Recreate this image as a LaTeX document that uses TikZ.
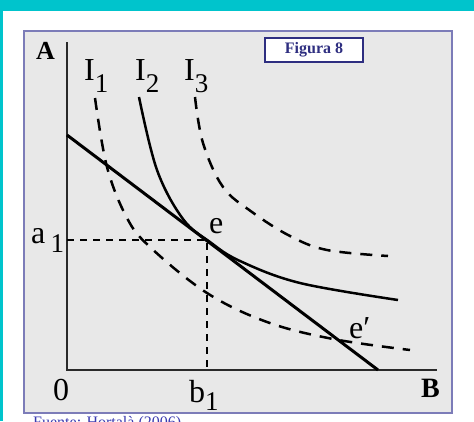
\documentclass[tikz,border=0pt]{standalone}
\usepackage{fontspec}
\setmainfont{Liberation Serif}
\definecolor{tealband}{HTML}{00C4CC}
\definecolor{panelgray}{HTML}{E8E8E8}
\definecolor{paneledge}{HTML}{7C7CB8}
\definecolor{navy}{HTML}{2E2E80}
\definecolor{srcblue}{HTML}{3A3AB0}
\definecolor{axisgray}{HTML}{2A2A2A}
\newcommand{\mysub}[2]{\raisebox{-#1}{\fontsize{27}{27}\selectfont #2}}
\tikzset{
  lbl/.style={font=\fontsize{32}{32}\selectfont, inner sep=0pt, anchor=base west},
  boldlbl/.style={font=\fontsize{28}{28}\selectfont\bfseries, inner sep=0pt, anchor=base west},
  axisline/.style={line width=2pt, draw=axisgray},
  budget/.style={line width=3pt, draw=black},
  indiff/.style={line width=2.5pt, draw=black},
  indiffdash/.style={line width=2.5pt, draw=black, dash pattern=on 12pt off 9pt},
  guide/.style={line width=1.3pt, draw=black, dash pattern=on 7pt off 6pt},
  figbox/.style={draw=navy, line width=2pt, fill=white, minimum width=98pt, minimum height=24pt, inner sep=0pt, font=\fontsize{16}{16}\selectfont\bfseries, text=navy}
}
\begin{document}
\begin{tikzpicture}[x=1pt,y=-1pt]
\useasboundingbox (0,0) rectangle (474,421);
\clip (0,0) rectangle (474,421);
% background bands
\fill[tealband] (0,0) rectangle (474,11);
\fill[tealband] (0,0) rectangle (2.5,421);
% panel
\draw[fill=panelgray, draw=paneledge, line width=2.5pt] (24,31) rectangle (452,413);
% source text (cut off at the lower edge, as in the reference)
\node[anchor=base west, inner sep=0pt, text=srcblue, font=\fontsize{16}{16}\selectfont] (src) at (33,427) {Fuente: Hortalà (2006)};
% figure tag
\node[figbox] (fig) at (314,50) {Figura 8};
% axes
\coordinate (Atop) at (67,42);
\coordinate (O) at (67,370);
\coordinate (Bend) at (437,370);
\draw[axisline] (Atop) -- (O) -- (Bend);
% guides
\coordinate (e) at (207,240);
\coordinate (a1) at (67,240);
\coordinate (b1) at (207,370);
\draw[guide] (a1) -- (e) -- (b1);
% indifference curves
\draw[indiffdash] plot[smooth, tension=0.6] coordinates {(95,98) (107,167) (127,218) (150,247) (207,293) (267,322) (333,339) (410,350)};
\draw[indiff] plot[smooth, tension=0.6] coordinates {(139,97) (157,170) (183,219) (210,242) (240,261) (300,283) (398,300)};
\draw[indiffdash] plot[smooth, tension=0.6] coordinates {(195,97) (203,143) (223,187) (252,212) (290,236) (327,250) (388,256)};
% budget line
\coordinate (bl0) at (67,135);
\coordinate (bl1) at (378,370);
\draw[budget] (bl0) -- (bl1);
% labels
\node[boldlbl, font=\fontsize{26}{26}\selectfont\bfseries] (labA) at (36,59) {A};
\node[boldlbl] (labB) at (421,397) {B};
\node[lbl] (lab0) at (53,400) {0};
\node[lbl] (labb1) at (189,402) {b\mysub{8pt}{1}};
\node[lbl] (laba1) at (31,243) {a\,\mysub{9pt}{1}};
\node[lbl] (labI1) at (84,80) {I\mysub{12pt}{1}};
\node[lbl] (labI2) at (135,80) {I\mysub{12pt}{2}};
\node[lbl] (labI3) at (184,80) {I\mysub{12pt}{3}};
\node[lbl] (labe) at (209,233) {e};
\node[lbl] (labep) at (349,338) {e′};
\end{tikzpicture}
\end{document}
